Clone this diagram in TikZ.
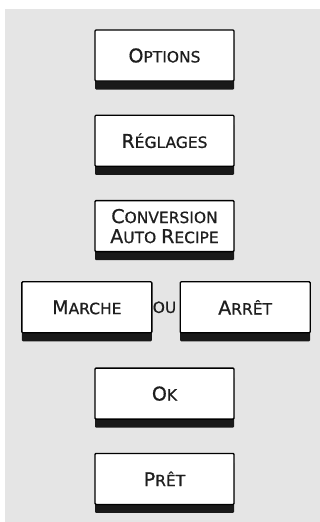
\documentclass[tikz,border=0pt]{standalone}
\usepackage{fontspec}
\setmainfont[FakeBold=0.7]{DejaVu Sans}
\usetikzlibrary{positioning,shadows}

\definecolor{panelgray}{HTML}{E5E5E5}
\definecolor{keytext}{HTML}{1E1E1E}
\newcommand\capl[1]{{\fontsize{19}{20}\selectfont #1}}

\begin{document}
\begin{tikzpicture}[
  x=1pt, y=1pt,
  node distance=33pt,
  key/.style={
    rectangle, rounded corners=1pt, draw, line width=1.3pt,
    fill=white, text=keytext,
    minimum width=139pt, minimum height=51pt, inner sep=0pt,
    align=center, font=\fontsize{15.5}{20}\selectfont,
    general shadow={fill=black!90, shadow xshift=0pt, shadow yshift=-8.5pt}},
  halfkey/.style={key, minimum width=130pt},
  word/.style={text=keytext, inner sep=0pt, font=\fontsize{15.5}{20}\selectfont},
]
  \useasboundingbox (0,0) rectangle (320,-522);
  \fill[panelgray] (5,-9) rectangle (320,-522);

  \node[key] (options) at (164.5,-55.5) {\capl{O}PTIONS};
  \node[key, below=of options] (reglages) {\capl{R}ÉGLAGES};
  \node[key, below=of reglages] (conv)
      {\capl{C}ONVERSION\\\capl{A}UTO \capl{R}ECIPE};
  \node[word, below=49pt of conv] (ou) {OU};
  \node[halfkey, left=12pt of ou.center, anchor=east] (marche) {\capl{M}ARCHE};
  \node[halfkey, right=15pt of ou.center, anchor=west] (arret) {\capl{A}RRÊT};
  \node[key, below=34pt of marche.south -| conv.south] (ok) {\capl{O}K};
  \node[key, below=of ok] (pret) {\capl{P}RÊT};
\end{tikzpicture}
\end{document}
